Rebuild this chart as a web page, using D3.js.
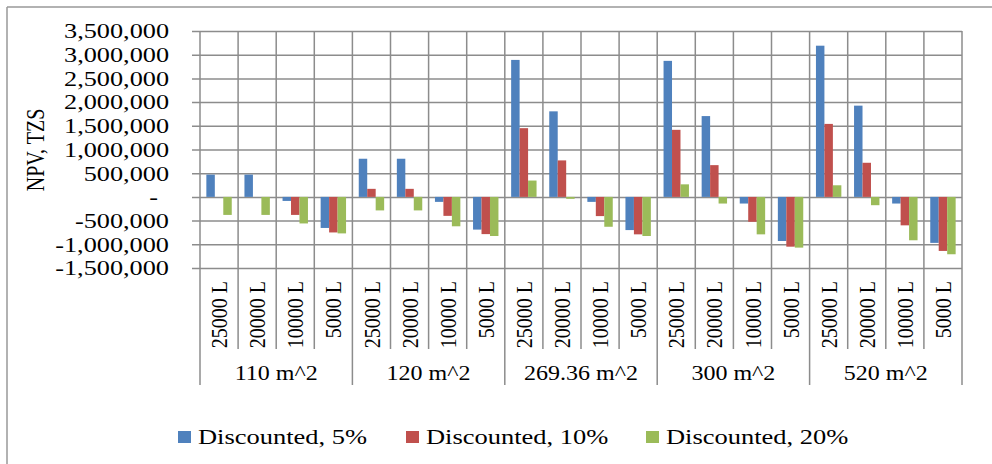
<!DOCTYPE html>
<html>
<head>
<meta charset="utf-8">
<script src="https://cdn.jsdelivr.net/npm/d3@7/dist/d3.min.js"></script>
<style>
  html, body { margin: 0; padding: 0; background: #fff; }
  svg { display: block; }
  text { font-family: "Liberation Serif", "Times New Roman", serif; fill: #000; }
</style>
</head>
<body>
<svg id="chart" width="992" height="464"></svg>
<script>
// ---- data ----
const groups = ["110 m^2", "120 m^2", "269.36 m^2", "300 m^2", "520 m^2"];
const sizes = ["25000 L", "20000 L", "10000 L", "5000 L"];
const seriesNames = ["Discounted, 5%", "Discounted, 10%", "Discounted, 20%"];
const disc5 = [470000, 470000, -85000, -655000, 805000, 805000, -105000, -690000, 2890000, 1805000, -105000, -700000, 2870000, 1705000, -140000, -930000, 3190000, 1925000, -140000, -970000];
const disc10 = [0, 0, -380000, -750000, 170000, 170000, -400000, -785000, 1450000, 770000, -405000, -790000, 1415000, 670000, -525000, -1050000, 1540000, 720000, -600000, -1140000];
const disc20 = [-380000, -380000, -560000, -770000, -285000, -285000, -620000, -825000, 345000, -40000, -630000, -825000, 265000, -140000, -790000, -1070000, 245000, -175000, -915000, -1210000];
const tickValues = [-1500000, -1000000, -500000, 0, 500000, 1000000, 1500000, 2000000, 2500000, 3000000, 3500000];
const tickLabels = ["-1,500,000", "-1,000,000", "-500,000", "-", "500,000", "1,000,000", "1,500,000", "2,000,000", "2,500,000", "3,000,000", "3,500,000"];
const yTitle = "NPV, TZS";

// ---- build ----
const colors = ["#4F81BD", "#C0504D", "#9BBB59"];
const seriesVals = [disc5, disc10, disc20];
const cats = [];
groups.forEach((g, gi) => sizes.forEach((s, si) => cats.push({ id: gi * sizes.length + si, group: g, size: s })));

const svg = d3.select("#chart");
const L = 200, R = 962, T = 31, B = 268;
const gridColor = "#8c8c8c";

function stretch(sel, k) {
  sel.each(function () {
    const len = this.getComputedTextLength();
    d3.select(this).attr("textLength", len * k).attr("lengthAdjust", "spacingAndGlyphs");
  });
}

// outer frame (top & left)
svg.append("line").attr("x1", 7).attr("x2", 992).attr("y1", 7).attr("y2", 7).attr("stroke", "#999").attr("stroke-width", 1.5);
svg.append("line").attr("x1", 7).attr("x2", 7).attr("y1", 7).attr("y2", 464).attr("stroke", "#999").attr("stroke-width", 1.5);

const x0 = d3.scaleBand().domain(cats.map(c => c.id)).range([L, R]).paddingInner(0).paddingOuter(0);
const x1 = d3.scaleBand().domain(d3.range(seriesNames.length)).range([0, x0.bandwidth()]).paddingInner(0).paddingOuter(0.75);
const y = d3.scaleLinear().domain([-1500000, 3500000]).range([B, T]);

// horizontal gridlines + ticks
const yAxis = d3.axisLeft(y).tickValues(tickValues).tickSize(-(R - L)).tickSizeOuter(0).tickFormat("");
const ga = svg.append("g").attr("transform", `translate(${L},0)`).call(yAxis);
ga.select(".domain").remove();
ga.selectAll(".tick line").attr("x1", -8).attr("stroke", gridColor).attr("stroke-width", 1.5);

// y labels
const yl = svg.append("g").selectAll("text").data(tickValues).join("text")
  .attr("x", (d, i) => tickLabels[i] === "-" ? 158 : 169)
  .attr("y", d => y(d))
  .attr("dy", "0.35em")
  .attr("text-anchor", "end")
  .attr("font-size", 21)
  .text((d, i) => tickLabels[i]);
stretch(yl, 1.25);

// vertical gridlines at category boundaries
const bounds = d3.range(cats.length + 1);
svg.append("g").selectAll("line").data(bounds).join("line")
  .attr("x1", i => i < cats.length ? x0(i) : R)
  .attr("x2", i => i < cats.length ? x0(i) : R)
  .attr("y1", T)
  .attr("y2", i => (i % sizes.length === 0) ? 385 : 349)
  .attr("stroke", gridColor).attr("stroke-width", 1.5);

// bars
const bars = [];
cats.forEach(c => seriesVals.forEach((arr, si) => bars.push({ c: c.id, s: si, v: arr[c.id] })));
svg.append("g").selectAll("rect").data(bars).join("rect")
  .attr("x", d => x0(d.c) + x1(d.s))
  .attr("width", x1.bandwidth())
  .attr("y", d => Math.min(y(d.v), y(0)))
  .attr("height", d => Math.abs(y(d.v) - y(0)))
  .attr("fill", d => colors[d.s]);

// category labels (rotated)
svg.append("g").selectAll("text").data(cats).join("text")
  .attr("transform", d => `translate(${x0(d.id) + x0.bandwidth() / 2},281) scale(1.15,1) rotate(-90)`)
  .attr("text-anchor", "end")
  .attr("dy", "0.35em")
  .attr("font-size", 20)
  .text(d => d.size);

// group labels
const gl = svg.append("g").selectAll("text").data(groups).join("text")
  .attr("x", (g, gi) => (x0(gi * sizes.length) + (gi === groups.length - 1 ? R : x0((gi + 1) * sizes.length))) / 2)
  .attr("y", 373)
  .attr("dy", "0.35em")
  .attr("text-anchor", "middle")
  .attr("font-size", 20)
  .text(g => g);
stretch(gl, 1.2);

// y title
svg.append("text")
  .attr("transform", "translate(35,150) scale(1.25,1) rotate(-90)")
  .attr("text-anchor", "middle")
  .attr("dy", "0.35em")
  .attr("font-size", 20)
  .text(yTitle);

// legend
const legX = [178, 406, 646];
const leg = svg.append("g").selectAll("g").data(seriesNames).join("g")
  .attr("transform", (d, i) => `translate(${legX[i]},437)`);
leg.append("rect").attr("x", 0).attr("y", -6).attr("width", 13).attr("height", 12).attr("fill", (d, i) => colors[i]);
const lt = leg.append("text").attr("x", 20).attr("dy", "0.35em").attr("font-size", 21).text(d => d);
stretch(lt, 1.26);
</script>
</body>
</html>
